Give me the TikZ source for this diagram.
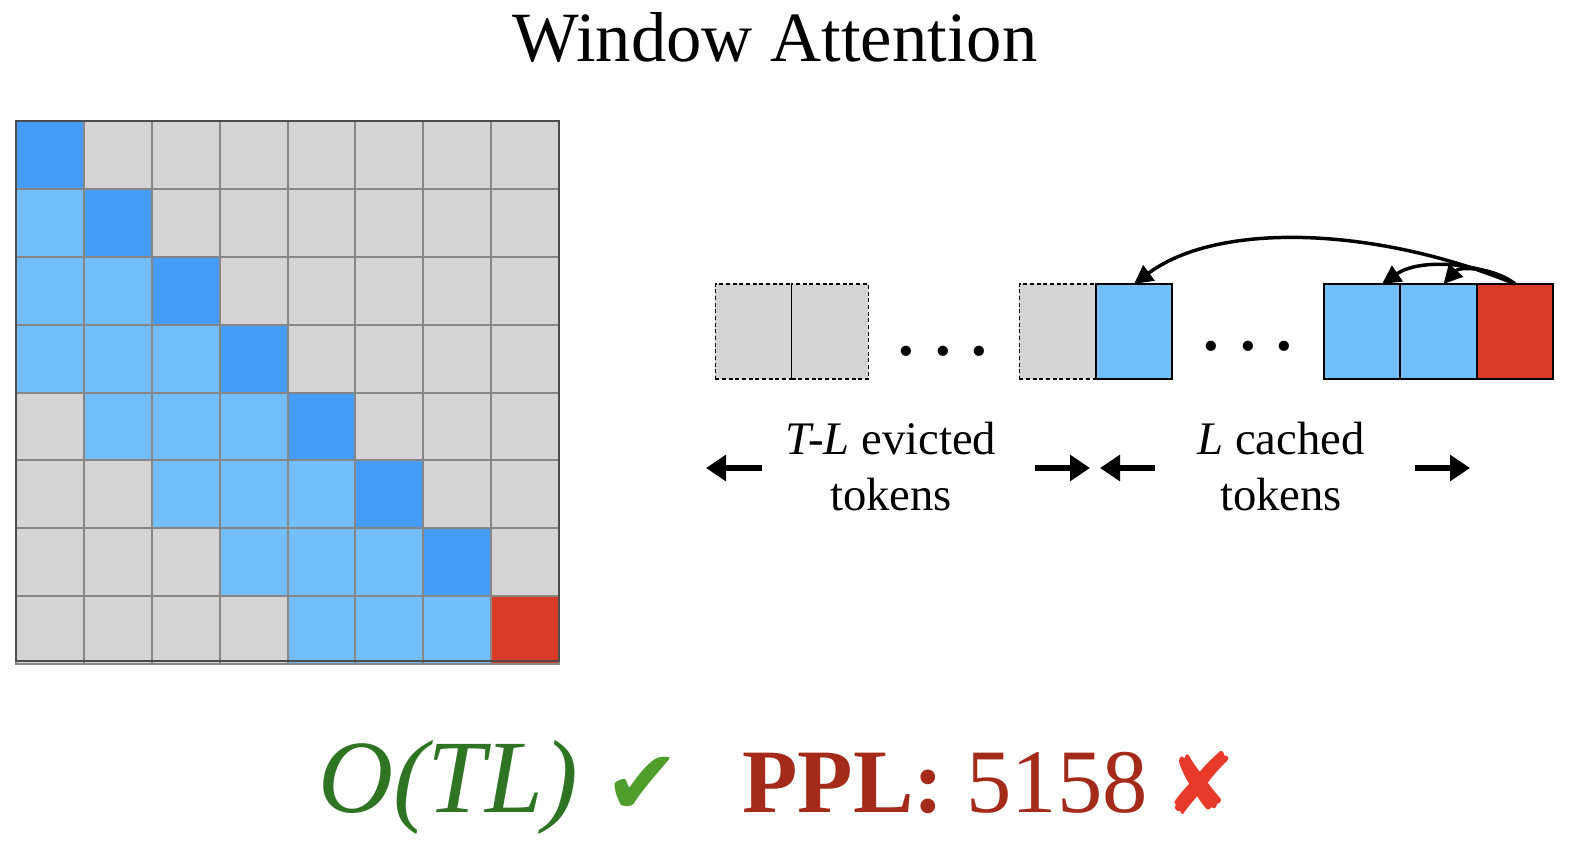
\documentclass[tikz,border=0pt]{standalone}
\usepackage{xcolor}
\usepackage{tikz}
\usepackage{ifthen}
\usepackage{fontspec}
\setmainfont{Liberation Serif}
\newfontfamily\symfont{DejaVu Sans}
\usetikzlibrary{arrows.meta,calc,positioning}

\definecolor{diagblue}{HTML}{459DF8}
\definecolor{winblue}{HTML}{72BEF8}
\definecolor{maskgray}{HTML}{D4D4D4}
\definecolor{qred}{HTML}{DA3B26}
\definecolor{okgreen}{HTML}{2E7423}
\definecolor{tickgreen}{HTML}{4E9D2D}
\definecolor{pplred}{HTML}{A42A19}
\definecolor{crossred}{HTML}{E83A2B}

\tikzset{
    cell/.style={draw=gray!95, line width=1.5pt},
    tok/.style={minimum width=57.4pt, minimum height=71.3pt, inner sep=0pt, outer sep=0pt, line width=1.5pt},
    evicted/.style={tok, fill=maskgray, draw=black, densely dashed, line width=1pt},
    cached/.style={tok, fill=winblue, draw=black},
    attn/.style={-{Triangle[length=14pt,width=14pt]}, line width=2.6pt},
    span/.style={-{Triangle[length=15pt,width=19pt]}, line width=4.5pt},
    lbl/.style={font=\fontsize{35}{41.5}\selectfont, align=center, anchor=base}
}

\begin{document}
\begin{tikzpicture}[x=0.75pt, y=-0.75pt]
\useasboundingbox (0,0) rectangle (1576,842);

\node[anchor=base, font=\fontsize{53}{60}\selectfont] (title) at (775,62) {Window Attention};

% attention mask
\foreach \r in {0,...,7}
    \foreach \c in {0,...,7}{
        \pgfmathsetmacro\d{int(\r - \c)};
        \def\cellcol{maskgray}
        \ifthenelse{ \d > 0 \AND \d < 4 }{\def\cellcol{winblue}}{}
        \ifthenelse{ \d = 0 }{\def\cellcol{diagblue}}{}
        \ifthenelse{ \r = 7 \AND \c = 7 }{\def\cellcol{qred}}{}
        \filldraw[cell, fill=\cellcol] (16+\c*67.875, 121+\r*67.875) rectangle ++(67.875,67.875);
       }
\draw[line width=1.5pt, gray!60!black] (16,121) rectangle (559,661);

% kv cache
\node[evicted] (e1) at (753.5,331.5) {};
\node[evicted, right=0pt of e1] (e2) {};
\draw[line width=1pt] (e1.north east) -- (e1.south east);
\node[font=\fontsize{47}{47}\selectfont\bfseries] (dotsA) at (943,351) {. . .};

\node[evicted] (e3) at (1057.5,331.5) {};
\node[cached, right=0pt of e3] (c0) {};
\node[font=\fontsize{47}{47}\selectfont\bfseries] (dotsB) at (1248,346) {. . .};

\node[cached] (c1) at (1362,331.5) {};
\node[cached, right=0pt of c1] (c2) {};
\node[tok, fill=qred, draw=black, right=0pt of c2] (q) {};

\draw[attn] (q.north) .. controls (1380,228) and (1220,220) .. (c0.north);
\draw[attn] (q.north) .. controls (1480,262) and (1420,258) .. ($(c1.north)+(20,0)$);
\draw[attn] (q.north) .. controls (1495,268) and (1460,266) .. ($(c2.north)+(5,0)$);

\node[lbl] (ev) at (891,510) {\textit{T-L} evicted\\tokens};
\node[lbl] (ca) at (1281,510) {\textit{L} cached\\tokens};
\draw[span] (762,468) -- (706,468);
\draw[span] (1035,468) -- (1090,468);
\draw[span] (1155,468) -- (1100,468);
\draw[span] (1415,468) -- (1470,468);

% cost and perplexity
\node[anchor=base west, text=okgreen, font=\fontsize{78}{78}\selectfont\itshape, inner sep=0pt] (cost) at (318,812) {O(TL)};
\node[anchor=base west, text=tickgreen, font=\fontsize{68}{68}\selectfont\symfont, inner sep=0pt] (tick) at (604,814) {✔};
\node[anchor=base west, text=pplred, font=\fontsize{68}{68}\selectfont, inner sep=0pt] (ppl) at (742,812) {\textbf{PPL:} 5158};
\node[anchor=base west, text=crossred, font=\fontsize{64}{64}\selectfont\symfont, inner sep=0pt] (cross) at (1164,814) {✘};

\end{tikzpicture}
\end{document}
